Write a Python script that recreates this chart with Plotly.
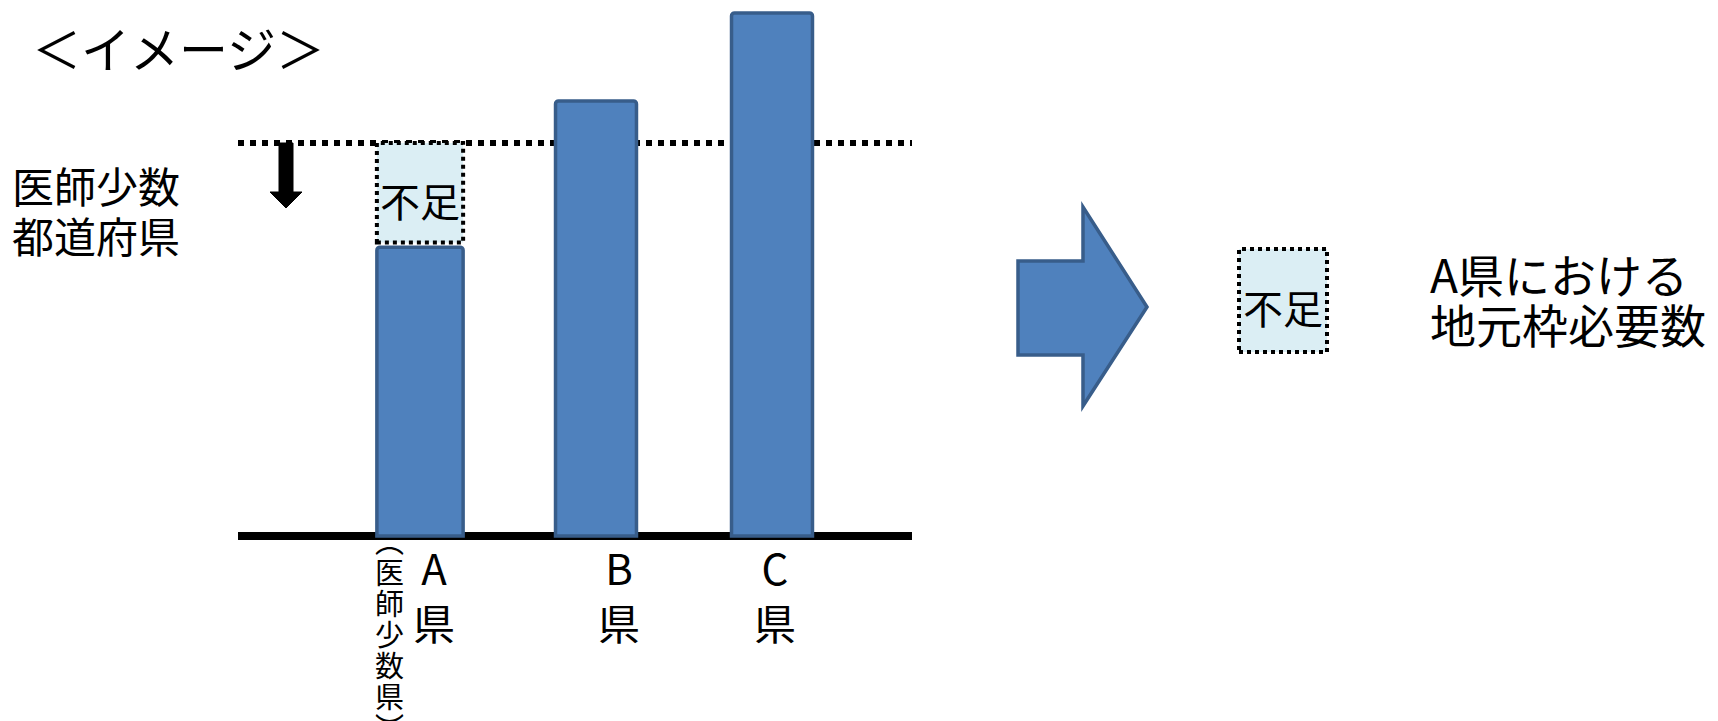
import plotly.graph_objects as go

W, H = 1718, 721

# ---- data ----
categories = ["A県", "B県", "C県"]
cat_labels = ["A<br>県", "B<br>県", "C<br>県"]
values = [73.5, 110.7, 133.1]          # bar heights (threshold = 100)
threshold = 100
shortage_label = "不足"
title_text = "＜イメージ＞"
left_lines = ["医師少数", "都道府県"]
right_lines = ["A県における", "地元枠必要数"]
note_chars = ["︵", "医", "師", "少", "数", "県", "︶"]

# ---- style ----
FONT = "Noto Sans CJK JP"
BAR_FILL = "#4F81BD"
BAR_LINE = "#385D8A"
BOX_FILL = "#DBEEF4"
DOT_LINE = "6px,6px"
DOT_BOX = "4px,4px"
BAR_WIDTHS = [0.49, 0.46, 0.46]
LABEL_XSHIFT = [14, 23, 3]


def px(x):
    return x / W


def py(y):
    return 1 - y / H


fig = go.Figure()
fig.add_trace(go.Bar(
    x=categories, y=values, width=BAR_WIDTHS,
    marker=dict(color=BAR_FILL, line=dict(color=BAR_LINE, width=3.5), cornerradius=3),
    hoverinfo="skip",
))

shapes = []
# baseline
shapes.append(dict(type="line", xref="x domain", yref="y", x0=0, x1=1, y0=0, y1=0,
                   line=dict(color="black", width=8), layer="below"))
# threshold dotted line
shapes.append(dict(type="line", xref="x domain", yref="y", x0=0, x1=1, y0=threshold, y1=threshold,
                   line=dict(color="black", width=6, dash=DOT_LINE), layer="below"))
# shortage box on A
wA = BAR_WIDTHS[0]
shapes.append(dict(type="rect", xref="x", yref="y", x0=-wA / 2, x1=wA / 2,
                   y0=values[0] + 1.2, y1=threshold,
                   fillcolor=BOX_FILL, line=dict(color="black", width=4, dash=DOT_BOX), layer="above"))
# down arrow
pts = [(279, 143), (293, 143), (293, 192), (302, 192), (286, 208), (270, 192), (279, 192)]
path = "M " + " L ".join(f"{px(a):.5f},{py(b):.5f}" for a, b in pts) + " Z"
shapes.append(dict(type="path", xref="paper", yref="paper", path=path,
                   fillcolor="black", line=dict(color="black", width=1)))
# block arrow
pts = [(1018, 261), (1083, 261), (1083, 207), (1147, 307), (1083, 406), (1083, 355), (1018, 355)]
path = "M " + " L ".join(f"{px(a):.5f},{py(b):.5f}" for a, b in pts) + " Z"
shapes.append(dict(type="path", xref="paper", yref="paper", path=path,
                   fillcolor=BAR_FILL, line=dict(color=BAR_LINE, width=3.5)))
# right shortage box
shapes.append(dict(type="rect", xref="paper", yref="paper", x0=px(1239), x1=px(1327),
                   y0=py(352), y1=py(249), fillcolor=BOX_FILL,
                   line=dict(color="black", width=4, dash=DOT_BOX)))

ann = []
ann.append(dict(text=title_text, xref="paper", yref="paper", x=px(30), y=py(47),
                xanchor="left", yanchor="middle", showarrow=False,
                font=dict(family=FONT, size=49, color="black")))
for i, line in enumerate(left_lines):
    ann.append(dict(text=line, xref="paper", yref="paper", x=px(10), y=py(184 + 50 * i),
                    xanchor="left", yanchor="middle", showarrow=False,
                    font=dict(family=FONT, size=42, color="black")))
for i, line in enumerate(right_lines):
    ann.append(dict(text=line, xref="paper", yref="paper", x=px(1428), y=py(273 + 50 * i),
                    xanchor="left", yanchor="middle", showarrow=False,
                    font=dict(family=FONT, size=46, color="black")))
# shortage label on A
ann.append(dict(text=shortage_label, xref="x", yref="y", x=categories[0],
                y=(values[0] + threshold) / 2, yshift=-5, showarrow=False,
                xanchor="center", yanchor="middle",
                font=dict(family=FONT, size=40, color="black")))
# right shortage label
ann.append(dict(text=shortage_label, xref="paper", yref="paper", x=px(1283), y=py(307),
                showarrow=False, xanchor="center", yanchor="middle",
                font=dict(family=FONT, size=40, color="black")))
# category labels
for c, lab, xs in zip(categories, cat_labels, LABEL_XSHIFT):
    ann.append(dict(text=lab, xref="x", yref="y", x=c, y=0, xshift=xs, yshift=-58,
                    showarrow=False, xanchor="center", yanchor="middle",
                    font=dict(family=FONT, size=42, color="black")))
# vertical note under A
for i, ch in enumerate(note_chars):
    ann.append(dict(text=ch, xref="paper", yref="paper", x=px(389), y=py(540 + 31 * i),
                    showarrow=False, xanchor="center", yanchor="middle",
                    font=dict(family=FONT, size=29, color="black")))

xu = 176.0
x_lo = 1 + (238 - 596) / xu
x_hi = 1 + (912 - 596) / xu
k = 3.93
fig.update_layout(
    width=W, height=H, autosize=False,
    margin=dict(l=0, r=0, t=0, b=0, pad=0),
    paper_bgcolor="white", plot_bgcolor="white",
    showlegend=False,
    shapes=shapes, annotations=ann,
    xaxis=dict(type="category", domain=[px(238), px(912)], range=[x_lo, x_hi],
               visible=False, showgrid=False, zeroline=False, fixedrange=True),
    yaxis=dict(domain=[0, 1], range=[-(H - 536) / k, 536 / k],
               visible=False, showgrid=False, zeroline=False, fixedrange=True),
)

fig.write_html("out.html", config={"displayModeBar": False})
